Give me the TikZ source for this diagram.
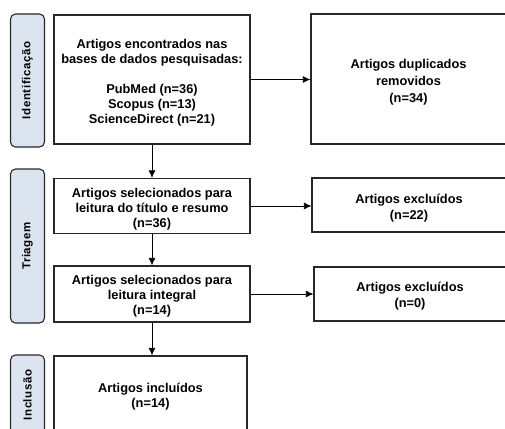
\documentclass[tikz,border=0pt]{standalone}
\usepackage{fontspec}
\setmainfont{Liberation Sans}
\usetikzlibrary{arrows.meta}
\definecolor{sidefill}{RGB}{220,228,240}
\definecolor{edge}{RGB}{40,40,40}
\newcommand{\tp}[1]{\rule{0pt}{#1}}
\tikzset{
  mainbox/.style={draw=edge, line width=1.2pt, fill=white, inner sep=0pt, align=center,
    font=\fontsize{12.8}{15}\selectfont\bfseries},
  sidebox/.style={draw=edge, line width=1.1pt, fill=sidefill, rounded corners=5pt, inner sep=0pt,
    rotate=90, minimum height=34pt,
    font=\fontsize{11.5}{13}\selectfont\bfseries\addfontfeatures{LetterSpace=5}},
  flow/.style={line width=0.8pt, -{Latex[length=7.5pt,width=7pt]}}
}
\begin{document}
\begin{tikzpicture}[x=1pt,y=-1pt]
\useasboundingbox (0,0) rectangle (505,428);
\clip (0,0) rectangle (505,428);
% side labels
\node[sidebox, minimum width=133pt] (sid) at (27.5,80.5) {Identificação};
\node[sidebox, minimum width=154pt] (stri) at (27.5,246) {Triagem};
\node[sidebox, minimum width=80pt] (sinc) at (27.5,395) {Inclusão};
% main column
\node[mainbox, minimum width=196pt, minimum height=129pt] (b1) at (152,79.5)
  {\tp{15pt}Artigos encontrados nas\\bases de dados pesquisadas:\\[15pt]PubMed (n=36)\\Scopus (n=13)\\ScienceDirect (n=21)};
\node[mainbox, minimum width=196pt, minimum height=55pt] (b2) at (152,206)
  {\tp{15pt}Artigos selecionados para\\leitura do título e resumo\\(n=36)};
\node[mainbox, minimum width=196pt, minimum height=56pt] (b3) at (152,294)
  {\tp{13pt}Artigos selecionados para\\leitura integral\\(n=14)};
\node[mainbox, minimum width=193pt, minimum height=78pt] (b4) at (150.5,395)
  {\tp{13pt}Artigos incluídos\\(n=14)};
% right column
\node[mainbox, minimum width=195pt, minimum height=130pt, font=\fontsize{12.8}{17}\selectfont\bfseries] (dup) at (408.5,79)
  {\tp{16pt}Artigos duplicados\\removidos\\(n=34)};
\node[mainbox, minimum width=194pt, minimum height=54pt, font=\fontsize{12.8}{16}\selectfont\bfseries] (e1) at (409,205)
  {\tp{15pt}Artigos excluídos\\(n=22)};
\node[mainbox, minimum width=192pt, minimum height=54pt, font=\fontsize{12.8}{16}\selectfont\bfseries] (e2) at (410,294)
  {\tp{14pt}Artigos excluídos\\(n=0)};
% connectors
\draw[flow] (b1.east) -- (dup.west |- b1.east);
\draw[flow] (b1.south) -- (b2.north);
\draw[flow] (b2.east) -- (e1.west |- b2.east);
\draw[flow] (b2.south) -- (b3.north);
\draw[flow] (b3.east) -- (e2.west |- b3.east);
\draw[flow] (b3.south) -- (b3.south |- b4.north);
\end{tikzpicture}
\end{document}
